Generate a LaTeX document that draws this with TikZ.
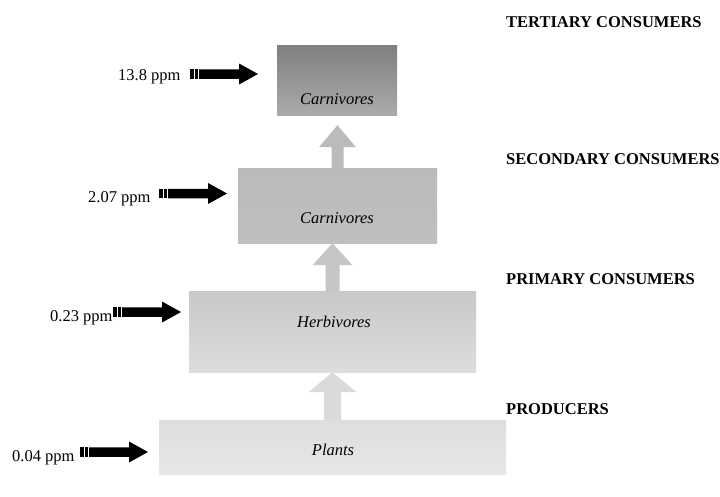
\documentclass[tikz,border=0pt]{standalone}
\usepackage{fontspec}
\setmainfont{Liberation Serif}
\usetikzlibrary{calc}
\definecolor{bxAt}{HTML}{7F7F7F}
\definecolor{bxAb}{HTML}{ABABAB}
\definecolor{bxBt}{HTML}{BABABA}
\definecolor{bxBb}{HTML}{BFBFBF}
\definecolor{bxCt}{HTML}{C8C8C8}
\definecolor{bxCb}{HTML}{DDDDDD}
\definecolor{bxDt}{HTML}{DEDEDE}
\definecolor{bxDb}{HTML}{E7E7E7}
\definecolor{arA}{HTML}{BBBBBB}
\definecolor{arB}{HTML}{C6C6C6}
\definecolor{arC}{HTML}{DADADA}
\newcommand\grayarrow[6]{%
  \fill[#1] let \p1=(#2), \p2=(#3) in
    (\x1-#4,\y1) -- (\x1-#4,\y2-#6) -- (\x1-#5,\y2-#6) -- (\x1,\y2)
    -- (\x1+#5,\y2-#6) -- (\x1+#4,\y2-#6) -- (\x1+#4,\y1) -- cycle;
}
\begin{document}
\begin{tikzpicture}[x=1pt,y=-1pt,
  font=\fontsize{16.5}{19}\selectfont,
  levelbox/.style={rectangle, inner sep=0pt, draw=none},
  boxtext/.style={font=\fontsize{16.5}{19}\selectfont\itshape, anchor=base, inner sep=0pt},
  leveltext/.style={font=\fontsize{16.5}{19}\selectfont\bfseries, anchor=base west, inner sep=0pt},
  ppmtext/.style={anchor=base west, inner sep=0pt},
  ppmarrow/.pic={
    \fill[black] (0,-4.75) rectangle (3.6,4.75);
    \fill[black] (4.6,-4.75) rectangle (8.2,4.75);
    \fill[black] (9.2,-4.75) -- (49,-4.75) -- (49,-10.5) -- (68,0)
      -- (49,10.5) -- (49,4.75) -- (9.2,4.75) -- cycle;
  }]
\useasboundingbox (0,0) rectangle (720,496);

% boxes
\node[levelbox, minimum width=120pt, minimum height=70pt, top color=bxAt, bottom color=bxAb] (b1) at (337,80) {};
\node[levelbox, minimum width=199pt, minimum height=75pt, top color=bxBt, bottom color=bxBb] (b2) at (337.5,205.5) {};
\node[levelbox, minimum width=287pt, minimum height=81pt, top color=bxCt, bottom color=bxCb] (b3) at (332.5,331.5) {};
\node[levelbox, minimum width=347pt, minimum height=54pt, top color=bxDt, bottom color=bxDb] (b4) at (332.5,447) {};

% box texts
\node[boxtext] (t1) at (337,104) {Carnivores};
\node[boxtext] (t2) at (337,223) {Carnivores};
\node[boxtext] (t3) at (334,327) {Herbivores};
\node[boxtext] (t4) at (333,455) {Plants};

% upward arrows
\grayarrow{arA}{b2.north}{[yshift=-10pt]b1.south}{6pt}{18.5pt}{22pt}
\grayarrow{arB}{b3.north}{b3.north |- b2.south}{7pt}{20pt}{22pt}
\grayarrow{arC}{b4.north}{b4.north |- b3.south}{8.5pt}{24pt}{20pt}

% level labels
\node[leveltext] (l1) at (506,27) {TERTIARY CONSUMERS};
\node[leveltext] (l2) at (506,164) {SECONDARY CONSUMERS};
\node[leveltext] (l3) at (506,284) {PRIMARY CONSUMERS};
\node[leveltext] (l4) at (506,414) {PRODUCERS};

% ppm labels
\node[ppmtext] (p1) at (118,80) {13.8 ppm};
\node[ppmtext] (p2) at (88,202) {2.07 ppm};
\node[ppmtext] (p3) at (50,321) {0.23 ppm};
\node[ppmtext] (p4) at (12,461) {0.04 ppm};

% black arrows
\pic (a1) at (190,74) {ppmarrow};
\pic (a2) at (159,193.5) {ppmarrow};
\pic (a3) at (113,312) {ppmarrow};
\pic (a4) at (80,452) {ppmarrow};
\end{tikzpicture}
\end{document}
